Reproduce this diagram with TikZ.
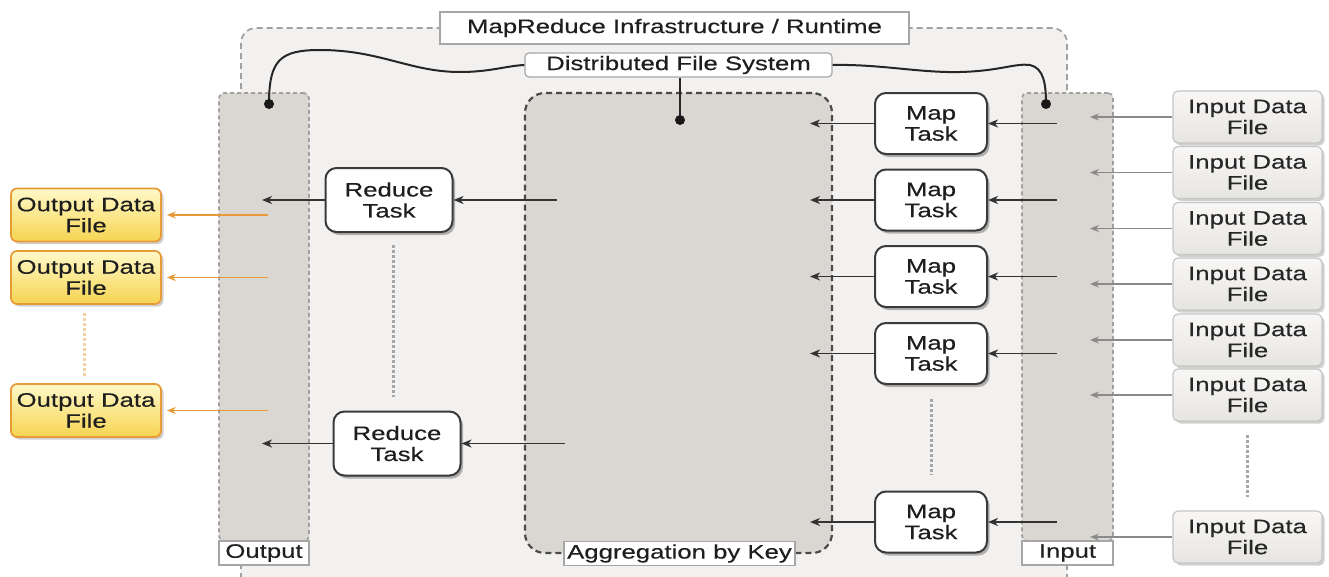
\documentclass[tikz,border=0pt]{standalone}
\usepackage{fontspec}
\setmainfont{Liberation Sans}[FakeStretch=1.32,FakeBold=0.35]
\usetikzlibrary{shadows,arrows.meta}
\definecolor{colgray}{HTML}{DAD7D3}
\definecolor{outerfill}{HTML}{F3F1EF}
\definecolor{dashgray}{HTML}{A0A0A0}
\definecolor{aggborder}{HTML}{4A4A4A}
\definecolor{taskborder}{HTML}{3A3A3A}
\definecolor{txt}{HTML}{1E1E1E}
\definecolor{orangeb}{HTML}{E89A38}
\definecolor{ytop}{HTML}{FFF9C8}
\definecolor{ybot}{HTML}{F6D452}
\definecolor{gtop}{HTML}{F8F7F5}
\definecolor{gbot}{HTML}{E7E5E2}
\definecolor{garrc}{HTML}{8A8A8A}
\begin{document}
\begin{tikzpicture}[x=1pt,y=-1pt,
  font=\fontsize{19.5}{21}\selectfont, text=txt,
  outerbox/.style={draw=dashgray, line width=1.7pt, dash pattern=on 6pt off 4pt, fill=outerfill, rounded corners=15pt},
  lab/.style={draw=gray!70, line width=1.2pt, fill=white, inner sep=0pt, minimum height=24pt},
  colbox/.style={draw=dashgray, line width=1.7pt, dash pattern=on 4pt off 3pt, fill=colgray, rounded corners=5pt, inner sep=0pt},
  aggbox/.style={draw=aggborder, line width=2.2pt, dash pattern=on 6pt off 4pt, fill=colgray, rounded corners=20pt, inner sep=0pt},
  task/.style={draw=taskborder, line width=2pt, fill=white, rounded corners=11pt, align=center, inner sep=0pt,
    drop shadow={shadow xshift=2.5pt, shadow yshift=-3pt, opacity=0.4, fill=black!70}},
  infile/.style={draw=gray!45, line width=1.2pt, rounded corners=5pt, top color=gtop, bottom color=gbot, align=center, inner sep=0pt,
    minimum width=149pt, minimum height=52pt, text=black!85,
    drop shadow={shadow xshift=2.5pt, shadow yshift=-2.5pt, opacity=0.3, fill=black!60}},
  outfile/.style={draw=orangeb, line width=1.7pt, rounded corners=6pt, top color=ytop, bottom color=ybot, align=center, inner sep=0pt,
    minimum width=150pt, minimum height=53pt,
    drop shadow={shadow xshift=2.5pt, shadow yshift=-2.5pt, opacity=0.3, fill=black!60}},
  arr/.style={-{Stealth[length=10pt,width=8pt,inset=3pt]}, line width=1.8pt, draw=black!80},
  garr/.style={-{Stealth[length=9pt,width=7pt,inset=3pt]}, line width=1.4pt, draw=garrc},
  oarr/.style={-{Stealth[length=9pt,width=7pt,inset=3pt]}, line width=1.7pt, draw=orangeb},
  curve/.style={line width=2pt, draw=black!85},
  dotline/.style={draw=gray!70, line width=3pt, dash pattern=on 3pt off 2pt},
  odotline/.style={draw=orangeb!45, line width=3pt, dash pattern=on 3pt off 2pt}
]
\useasboundingbox (0,0) rectangle (1329,576);
\clip (0,0) rectangle (1329,576);
\fill[white] (0,0) rectangle (1329,576);

% outer runtime area
\draw[outerbox] (241,28) rectangle (1067,640);
\node[lab, minimum width=469pt, minimum height=32pt] (title) at (674.5,28) {MapReduce Infrastructure / Runtime};
\node[lab, minimum width=307pt, rounded corners=4pt] (dfs) at (678.5,65) {Distributed File System};

% columns
\node[colbox, minimum width=90pt, minimum height=448pt] (outcol) at (264,317) {};
\node[colbox, minimum width=91pt, minimum height=448pt] (incol) at (1067.5,317) {};
\node[aggbox, minimum width=307pt, minimum height=460pt] (agg) at (678.5,323) {};
\node[lab, minimum width=90pt] (outlab) at (264,553) {Output};
\node[lab, minimum width=91pt] (inlab) at (1067.5,553) {Input};
\node[lab, minimum width=231pt] (agglab) at (679.5,553.5) {Aggregation by Key};

% DFS connections
\coordinate (d1) at (269,104);
\coordinate (d2) at (1046,104);
\coordinate (d3) at (680,120);
\draw[curve] (dfs.west) .. controls (505,66) and (490,72) .. (460,72)
  .. controls (410,72) and (380,50) .. (320,50)
  .. controls (280,50) and (269,60) .. (d1);
\draw[curve] (dfs.east) .. controls (880,64) and (920,73) .. (960,72)
  .. controls (1000,71) and (1015,63) .. (1030,65)
  .. controls (1044,68) and (1046,85) .. (d2);
\draw[curve] (d3 |- dfs.south) -- (d3);
\fill[black!90] (d1) circle (5pt) (d2) circle (5pt) (d3) circle (5pt);

% map tasks
\foreach \n/\y in {1/123.5,2/200,3/276.5,4/353.5,5/522}{
  \node[task, minimum width=112pt, minimum height=61pt] (m\n) at (931,\y) {Map\\Task};
}
% reduce tasks
\node[task, minimum width=127pt, minimum height=64pt] (r1) at (389,200) {Reduce\\Task};
\node[task, minimum width=127pt, minimum height=64pt] (r2) at (397,443.5) {Reduce\\Task};

% input files
\foreach \n/\y in {1/117,2/172.5,3/228.5,4/284,5/340,6/395,7/537}{
  \node[infile] (f\n) at (1247.5,\y) {Input Data\\File};
}
% output files
\node[outfile] (o1) at (86,215) {Output Data\\File};
\node[outfile] (o2) at (86,277.5) {Output Data\\File};
\node[outfile] (o3) at (86,410.5) {Output Data\\File};

% helper x-positions for free arrow ends
\coordinate (inx) at (1057,0);
\coordinate (incx) at (1090,0);
\coordinate (aggx) at (810,0);
\coordinate (aggl1) at (557,0);
\coordinate (aggl2) at (565,0);
\coordinate (outx) at (262,0);
\coordinate (outsx) at (268,0);

% input files -> input column
\foreach \n in {1,...,7}{
  \draw[garr] (f\n.west) -- (f\n -| incx);
}
% input column -> map tasks -> aggregation
\foreach \n in {1,...,5}{
  \draw[arr] (m\n -| inx) -- (m\n.east);
  \draw[arr] (m\n.west) -- (m\n -| aggx);
}
% aggregation -> reduce -> output
\draw[arr] (r1 -| aggl1) -- (r1.east);
\draw[arr] (r2 -| aggl2) -- (r2.east);
\draw[arr] (r1.west) -- (r1 -| outx);
\draw[arr] (r2.west) -- (r2 -| outx);
% output column -> output files
\draw[oarr] (o1 -| outsx) -- ([xshift=5pt]o1.east);
\draw[oarr] (o2 -| outsx) -- ([xshift=5pt]o2.east);
\draw[oarr] (o3 -| outsx) -- ([xshift=5pt]o3.east);

% ellipsis dots
\draw[dotline] (393,245) -- (393,397);
\draw[dotline] (931,399) -- (931,475);
\draw[dotline] (1247,435) -- (1247,497);
\draw[odotline] (84,313) -- (84,377);
\end{tikzpicture}
\end{document}
